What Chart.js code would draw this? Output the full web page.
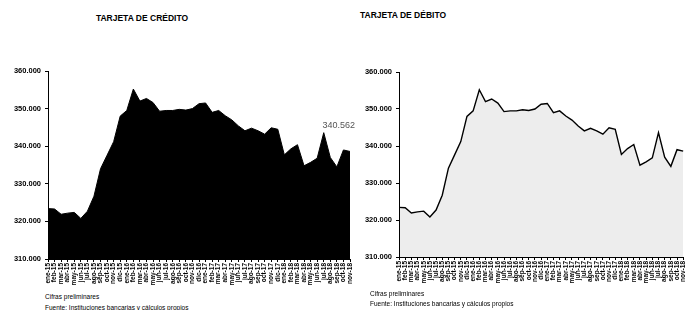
<!DOCTYPE html>
<html>
<head>
<meta charset="utf-8">
<script src="https://cdn.jsdelivr.net/npm/chart.js@4/dist/chart.umd.min.js"></script>
<style>
  body { margin: 0; width: 692px; height: 310px; background: #fff; position: relative; overflow: hidden;
         font-family: "Liberation Sans", Arial, sans-serif; color: #000; }
  .titulo { position: absolute; font-weight: bold; font-size: 8.5px; transform: translate(-50%, -50%); white-space: nowrap; }
  .nota { position: absolute; font-size: 6.5px; white-space: nowrap; transform: translateY(-50%); }
  canvas { position: absolute; }
</style>
</head>
<body>
<div class="titulo" style="left:142px;top:18px">TARJETA DE CRÉDITO</div>
<div class="titulo" style="left:403px;top:15px">TARJETA DE DÉBITO</div>

<canvas id="chart-credito" width="364" height="230" style="left:0;top:60px"></canvas>
<canvas id="chart-debito" width="340" height="230" style="left:352px;top:60px"></canvas>

<div class="nota" style="left:45px;top:296px">Cifras preliminares</div>
<div class="nota" style="left:45px;top:307px">Fuente: Instituciones bancarias y cálculos propios</div>
<div class="nota" style="left:370px;top:293px">Cifras preliminares</div>
<div class="nota" style="left:370px;top:303px">Fuente: Instituciones bancarias y cálculos propios</div>

<script>
const MESES = [
  "ene-15", "feb-15", "mar-15", "abr-15", "may-15", "jun-15", "jul-15", "ago-15", "sep-15", "oct-15", "nov-15", "dic-15",
  "ene-16", "feb-16", "mar-16", "abr-16", "may-16", "jun-16", "jul-16", "ago-16", "sep-16", "oct-16", "nov-16", "dic-16",
  "ene-17", "feb-17", "mar-17", "abr-17", "may-17", "jun-17", "jul-17", "ago-17", "sep-17", "oct-17", "nov-17", "dic-17",
  "ene-18", "feb-18", "mar-18", "abr-18", "may-18", "jun-18", "jul-18", "ago-18", "sep-18", "oct-18", "nov-18"
];

const CREDITO = [
  323400, 323300, 321900, 322200, 322400, 320800, 322700, 326700, 334000, 337600, 341200, 348000,
  349500, 355200, 352000, 352700, 351600, 349300, 349500, 349500, 349800, 349600, 350000, 351300,
  351500, 349000, 349500, 348100, 347000, 345400, 344100, 344800, 344100, 343200, 344900, 344500,
  337700, 339300, 340400, 334800, 335700, 336800, 343600, 337000, 334500, 339000, 338600
];

const DEBITO = [
  323400, 323300, 321900, 322200, 322400, 320800, 322700, 326700, 334000, 337600, 341200, 348000,
  349500, 355200, 352000, 352700, 351600, 349300, 349500, 349500, 349800, 349600, 350000, 351300,
  351500, 349000, 349500, 348100, 347000, 345400, 344100, 344800, 344100, 343200, 344900, 344500,
  337700, 339300, 340400, 334800, 335700, 336800, 343600, 337000, 334500, 339000, 338600
];

const Y_TICKS = [310000, 320000, 330000, 340000, 350000, 360000];
const ETIQUETA_CREDITO = "340.562";
const ETIQUETA_CREDITO_Y = 345600;

const FONT = "'Liberation Sans', Arial, sans-serif";

function fmt(v) {
  return String(v).replace(/\B(?=(\d{3})+(?!\d))/g, ".");
}

function scales(yWidth, xHeight) {
  return {
    x: {
      offset: false,
      grid: { display: true, drawOnChartArea: false, drawTicks: true, tickLength: 3, color: "#000" },
      border: { display: true, color: "#000", width: 1 },
      ticks: { color: "#000", autoSkip: false, minRotation: 90, maxRotation: 90, padding: 1,
               font: { family: FONT, size: 6.5, weight: "bold" } },
      afterFit: s => { s.height = xHeight; },
    },
    y: {
      min: Y_TICKS[0], max: Y_TICKS[Y_TICKS.length - 1],
      afterBuildTicks: s => { s.ticks = Y_TICKS.map(v => ({ value: v })); },
      grid: { display: true, drawOnChartArea: false, drawTicks: true, tickLength: 3, color: "#000" },
      border: { display: true, color: "#000", width: 1 },
      ticks: { color: "#000", padding: 4, callback: v => fmt(v),
               font: { family: FONT, size: 7.5, weight: "bold" } },
      afterFit: s => { s.width = yWidth; },
    },
  };
}

const etiquetaPlugin = {
  id: "etiqueta",
  afterDatasetsDraw(chart) {
    const { ctx, scales: { x, y } } = chart;
    ctx.save();
    ctx.font = "9px " + FONT;
    ctx.fillStyle = "#555";
    ctx.textAlign = "right";
    ctx.textBaseline = "middle";
    ctx.fillText(ETIQUETA_CREDITO, x.getPixelForValue(CREDITO.length - 1) + 5, y.getPixelForValue(ETIQUETA_CREDITO_Y));
    ctx.restore();
  },
};

new Chart(document.getElementById("chart-credito"), {
  type: "line",
  data: {
    labels: MESES,
    datasets: [{
      data: CREDITO,
      borderColor: "#000",
      backgroundColor: "#000",
      borderWidth: 1,
      fill: "start",
      pointRadius: 0,
      tension: 0,
    }],
  },
  options: {
    responsive: false,
    animation: false,
    layout: { padding: { top: 11, right: 14, left: 0, bottom: 0 } },
    plugins: { legend: { display: false }, tooltip: { enabled: false } },
    scales: scales(48, 31),
  },
  plugins: [etiquetaPlugin],
});

new Chart(document.getElementById("chart-debito"), {
  type: "line",
  data: {
    labels: MESES,
    datasets: [{
      data: DEBITO,
      borderColor: "#000",
      backgroundColor: "rgba(0,0,0,0.07)",
      borderWidth: 1.4,
      fill: "start",
      pointRadius: 0,
      tension: 0,
    }],
  },
  options: {
    responsive: false,
    animation: false,
    layout: { padding: { top: 12, right: 0, left: 0, bottom: 0 } },
    plugins: { legend: { display: false }, tooltip: { enabled: false } },
    scales: scales(47, 33),
  },
});
</script>
</body>
</html>
